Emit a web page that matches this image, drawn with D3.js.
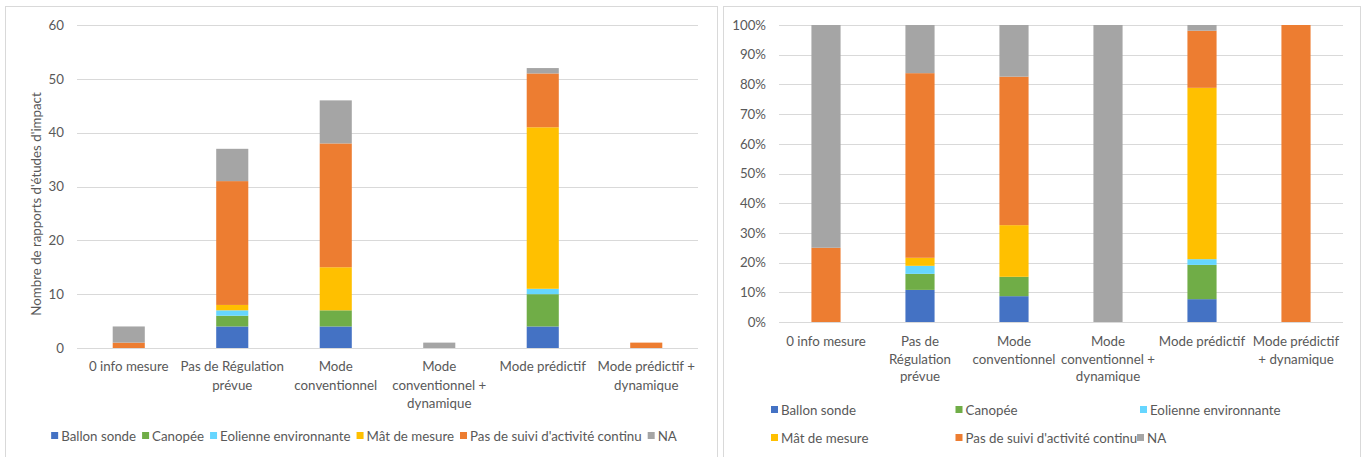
<!DOCTYPE html>
<html>
<head>
<meta charset="utf-8">
<script src="https://cdn.jsdelivr.net/npm/d3@7"></script>
<style>
  html, body { margin: 0; padding: 0; background: #fff; }
  svg { display: block; }
  text { font-family: Lato, "Liberation Sans", sans-serif; fill: #595959; }
</style>
</head>
<body>
<svg id="chart" width="1367" height="457"></svg>
<script>
// ---------- DATA ----------
const categories = ["0 info mesure", "Pas de Régulation prévue", "Mode conventionnel",
  "Mode conventionnel + dynamique", "Mode prédictif", "Mode prédictif + dynamique"];
const seriesNames = ["Ballon sonde", "Canopée", "Eolienne environnante", "Mât de mesure",
  "Pas de suivi d'activité continu", "NA"];
const ballonSonde = [0, 4, 4, 0, 4, 0];
const canopee     = [0, 2, 3, 0, 6, 0];
const eolienne    = [0, 1, 0, 0, 1, 0];
const matMesure   = [0, 1, 8, 0, 30, 0];
const pasDeSuivi  = [1, 23, 23, 0, 10, 1];
const naValues    = [3, 6, 8, 1, 1, 0];
const seriesColors = ["#4472C4", "#70AD47", "#66D6FF", "#FFC000", "#ED7D31", "#A5A5A5"];
const leftTicks  = [0, 10, 20, 30, 40, 50, 60];
const rightTicks = [0, 0.1, 0.2, 0.3, 0.4, 0.5, 0.6, 0.7, 0.8, 0.9, 1.0];
const leftLabelLines = [["0 info mesure"], ["Pas de Régulation", "prévue"], ["Mode", "conventionnel"],
  ["Mode", "conventionnel +", "dynamique"], ["Mode prédictif"], ["Mode prédictif +", "dynamique"]];
const rightLabelLines = [["0 info mesure"], ["Pas de", "Régulation", "prévue"], ["Mode", "conventionnel"],
  ["Mode", "conventionnel +", "dynamique"], ["Mode prédictif"], ["Mode prédictif", "+ dynamique"]];
const yTitleLeft = "Nombre de rapports d'études d'impact";

// ---------- BUILD ----------
const allSeries = [ballonSonde, canopee, eolienne, matMesure, pasDeSuivi, naValues];
const rows = categories.map((c, i) => {
  const r = { cat: c };
  seriesNames.forEach((s, j) => r[s] = allSeries[j][i]);
  return r;
});
const svg = d3.select("#chart");
const fs = 13.3;

function panel(x0, y0, x1, y1) {
  svg.append("rect").attr("x", x0 + 0.5).attr("y", y0 + 0.5)
    .attr("width", x1 - x0).attr("height", y1 - y0)
    .attr("fill", "#fff").attr("stroke", "#D9D9D9").attr("stroke-width", 1);
}

function drawChart(cfg) {
  const g = svg.append("g");
  const x = d3.scaleBand().domain(categories).range([cfg.left, cfg.right]).paddingInner(0.69).paddingOuter(0.345);
  const y = d3.scaleLinear().domain(cfg.domain).range([cfg.bottom, cfg.top]);
  // grid
  g.append("g").selectAll("line").data(cfg.ticks).join("line")
    .attr("x1", cfg.left).attr("x2", cfg.right)
    .attr("y1", d => Math.round(y(d)) + 0.5).attr("y2", d => Math.round(y(d)) + 0.5)
    .attr("stroke", "#D9D9D9").attr("stroke-width", 1);
  // y axis labels
  const yAxis = d3.axisLeft(y).tickValues(cfg.ticks).tickFormat(cfg.fmt).tickSize(0).tickPadding(cfg.tickPad);
  const ya = g.append("g").attr("transform", `translate(${cfg.left},0)`).call(yAxis);
  ya.select(".domain").remove();
  ya.selectAll("text").attr("font-size", fs).attr("fill", "#595959")
    .style("font-family", "Lato, 'Liberation Sans', sans-serif");
  // stacked bars
  const stack = d3.stack().keys(seriesNames).offset(cfg.offset);
  const layers = stack(rows);
  layers.forEach((layer, j) => {
    g.append("g").attr("fill", seriesColors[j]).selectAll("rect")
      .data(layer.filter(d => d[1] - d[0] > 0)).join("rect")
      .attr("x", d => x(d.data.cat))
      .attr("width", x.bandwidth())
      .attr("y", d => y(d[1]))
      .attr("height", d => y(d[0]) - y(d[1]));
  });
  // baseline
  g.append("line").attr("x1", cfg.left).attr("x2", cfg.right)
    .attr("y1", Math.round(y(0)) + 0.5).attr("y2", Math.round(y(0)) + 0.5)
    .attr("stroke", "#D9D9D9");
  // category labels
  categories.forEach((c, i) => {
    const t = g.append("text").attr("text-anchor", "middle").attr("font-size", fs)
      .attr("x", x(c) + x.bandwidth() / 2);
    cfg.lines[i].forEach((ln, k) => {
      t.append("tspan").attr("x", x(c) + x.bandwidth() / 2)
        .attr("y", cfg.labelY + k * cfg.lineH).text(ln);
    });
  });
  return g;
}

function legend(items, positions) {
  items.forEach((name, j) => {
    const p = positions[j];
    svg.append("rect").attr("x", p[0]).attr("y", p[1] - 4).attr("width", 7).attr("height", 7)
      .attr("fill", seriesColors[j]);
    svg.append("text").attr("x", p[0] + 10).attr("y", p[1]).attr("dy", "0.35em")
      .attr("font-size", fs).text(name);
  });
}

// Panels
panel(5, 6, 717, 470);
panel(723, 6, 1360, 470);

// Left chart
drawChart({
  left: 77, right: 698, top: 25, bottom: 348, domain: [0, 60], ticks: leftTicks,
  fmt: d3.format("d"), tickPad: 13, offset: d3.stackOffsetNone,
  lines: leftLabelLines, labelY: 371, lineH: 18.5
});
svg.append("text").attr("transform", "translate(36,204) rotate(-90)")
  .attr("text-anchor", "middle").attr("dy", "0.35em").attr("font-size", fs).text(yTitleLeft);

// Left legend: single row centered
(function () {
  const tmp = svg.append("g");
  const widths = seriesNames.map(n => {
    const t = tmp.append("text").attr("font-size", fs).text(n);
    return t.node().getComputedTextLength();
  });
  tmp.remove();
  const itemW = widths.map(w => 10 + w + 6);
  const total = d3.sum(itemW) - 6;
  let xx = 364 - total / 2;
  const pos = [];
  itemW.forEach(w => { pos.push([xx, 436]); xx += w; });
  legend(seriesNames, pos);
})();

// Right chart
drawChart({
  left: 779, right: 1343, top: 25, bottom: 322, domain: [0, 1], ticks: rightTicks,
  fmt: d3.format(".0%"), tickPad: 13, offset: d3.stackOffsetExpand,
  lines: rightLabelLines, labelY: 346, lineH: 17.7
});

// Right legend: 3 columns, 2 rows
const rightLegendPos = [[771, 410], [955.5, 410], [1140, 410], [771, 438], [955.5, 438], [1137, 438]];
legend(seriesNames, rightLegendPos);
</script>
</body>
</html>
